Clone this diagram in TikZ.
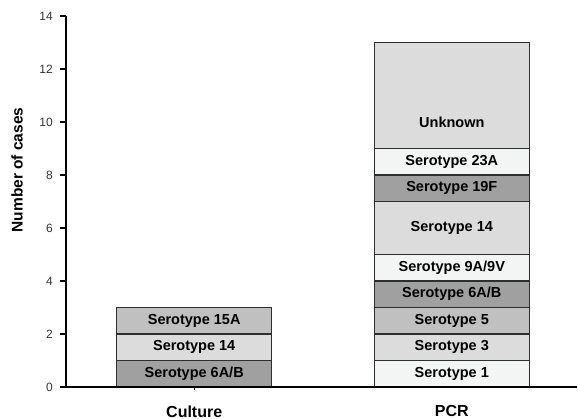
\documentclass[tikz,border=0pt]{standalone}
\usepackage{fontspec}
\setmainfont{Liberation Sans}
\definecolor{cLight}{HTML}{F3F5F4}
\definecolor{cMid}{HTML}{DCDCDC}
\definecolor{cDark}{HTML}{C0C0C0}
\definecolor{cDarker}{HTML}{A0A0A0}
\definecolor{cEdge}{HTML}{2E2E2E}
\definecolor{cTxt}{HTML}{333333}
\tikzset{
  seg/.style={draw=cEdge, line width=1.4pt},
  seglabel/.style={inner sep=0pt, font=\fontsize{14.5}{16}\selectfont\bfseries, text=black},
  ticklabel/.style={inner sep=0pt, anchor=east, font=\fontsize{12}{14}\selectfont, text=cTxt},
  catlabel/.style={inner sep=0pt, font=\fontsize{16}{18}\selectfont\bfseries, text=black},
  axlabel/.style={inner sep=0pt, font=\fontsize{15.5}{17}\selectfont\bfseries, text=black},
  axisline/.style={draw=black, line width=1.1pt},
}
\begin{document}
\begin{tikzpicture}[x={(1pt,0)}, y={(0,26.5pt)}]
\useasboundingbox (0,-1.2075) rectangle (578,14.6038);
% bars: Culture
\path[seg, fill=cDarker] (116.7,0) rectangle (271.7,1);
\path[seg, fill=cMid] (116.7,1) rectangle (271.7,2);
\path[seg, fill=cDark] (116.7,2) rectangle (271.7,3);
\node[seglabel] (c1) at (194.2,0.5) {Serotype 6A/B};
\node[seglabel] (c2) at (194.2,1.5) {Serotype 14};
\node[seglabel] (c3) at (194.2,2.5) {Serotype 15A};
% bars: PCR
\path[seg, fill=cLight] (374.3,0) rectangle (529.3,1);
\path[seg, fill=cMid] (374.3,1) rectangle (529.3,2);
\path[seg, fill=cDark] (374.3,2) rectangle (529.3,3);
\path[seg, fill=cDarker] (374.3,3) rectangle (529.3,4);
\path[seg, fill=cLight] (374.3,4) rectangle (529.3,5);
\path[seg, fill=cMid] (374.3,5) rectangle (529.3,7);
\path[seg, fill=cDarker] (374.3,7) rectangle (529.3,8);
\path[seg, fill=cLight] (374.3,8) rectangle (529.3,9);
\path[seg, fill=cMid] (374.3,9) rectangle (529.3,13);
\node[seglabel] (p1) at (451.8,0.5) {Serotype 1};
\node[seglabel] (p2) at (451.8,1.5) {Serotype 3};
\node[seglabel] (p3) at (451.8,2.5) {Serotype 5};
\node[seglabel] (p4) at (451.8,3.5) {Serotype 6A/B};
\node[seglabel] (p5) at (451.8,4.5) {Serotype 9A/9V};
\node[seglabel] (p6) at (451.8,6) {Serotype 14};
\node[seglabel] (p7) at (451.8,7.5) {Serotype 19F};
\node[seglabel] (p8) at (451.8,8.5) {Serotype 23A};
\node[seglabel] (p9) at (451.8,10) {Unknown};
% axes
\draw[axisline] (66,14) -- (66,0) -- (577,0);
\foreach \v in {0,2,...,14} {
  \draw[axisline] (60,\v) -- (66,\v);
  \node[ticklabel] (t\v) at (53,\v) {\v};
}
\draw[axisline] (194.2,0) -- (194.2,-0.12);
\node[axlabel, rotate=90] (ylab) at (17,8.19) {Number of cases};
\node[catlabel] (xc) at (194.2,-0.92) {Culture};
\node[catlabel] (xp) at (451.8,-0.92) {PCR};
\end{tikzpicture}
\end{document}
